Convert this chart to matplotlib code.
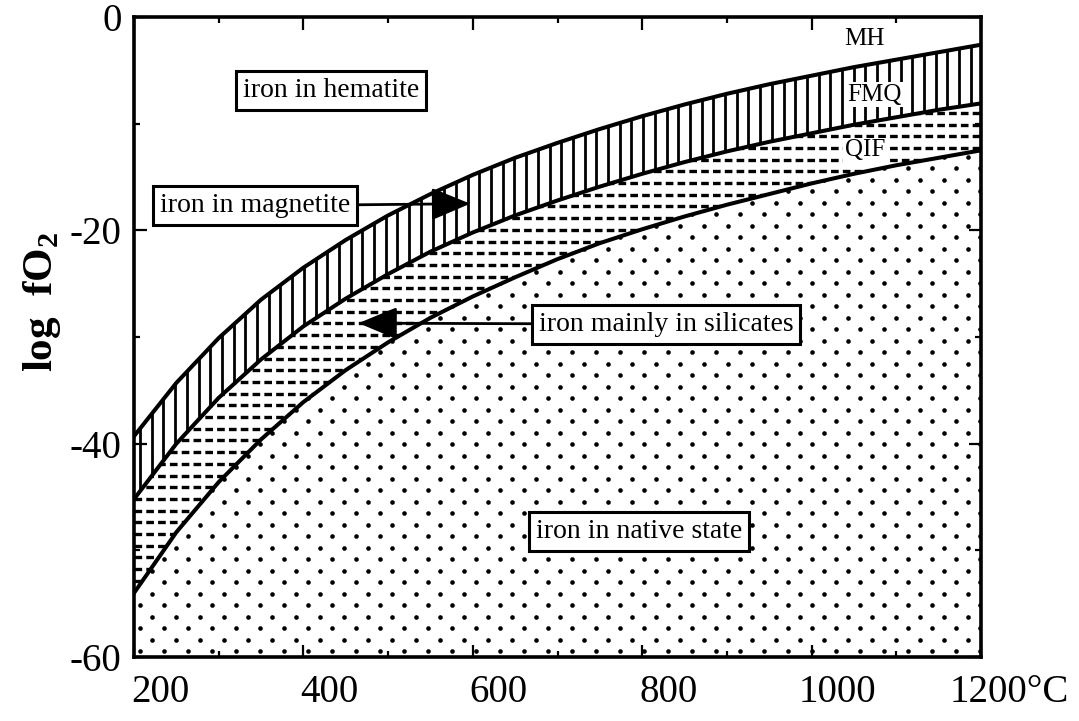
import matplotlib
matplotlib.use("Agg")
import matplotlib.pyplot as plt
import numpy as np
from matplotlib.patches import PathPatch
from matplotlib.collections import LineCollection
from matplotlib.transforms import ScaledTranslation
from matplotlib.ticker import MultipleLocator

plt.rcParams['font.family'] = ['Liberation Serif', 'DejaVu Serif']
plt.rcParams['mathtext.fontset'] = 'custom'
plt.rcParams['mathtext.rm'] = 'Liberation Serif:bold'
plt.rcParams['axes.unicode_minus'] = False
plt.rcParams['lines.scale_dashes'] = False

# buffer curves (log fO2 vs temperature in C)
temp = [200, 250, 300, 350, 400, 450, 500, 550, 600, 650, 700,
        750, 800, 850, 900, 950, 1000, 1050, 1100, 1150, 1200]
mh = [-39.3, -34.3, -30.1, -26.5, -23.5, -20.9, -18.6, -16.6, -14.8, -13.2, -11.8,
      -10.5, -9.3, -8.2, -7.2, -6.3, -5.5, -4.7, -4.0, -3.3, -2.6]
fmq = [-45.2, -40.0, -35.7, -32.1, -29.0, -26.4, -24.1, -22.0, -20.2, -18.6, -17.2,
       -15.9, -14.7, -13.6, -12.6, -11.7, -10.9, -10.1, -9.4, -8.7, -8.1]
qif = [-54.0, -48.3, -43.6, -39.6, -36.1, -33.1, -30.5, -28.2, -26.2, -24.4, -22.7,
       -21.2, -19.9, -18.7, -17.6, -16.6, -15.6, -14.7, -13.9, -13.2, -12.5]

xticks = [200, 400, 600, 800, 1000, 1200]
xticklabels = ['200', '400', '600', '800', '1000', '1200°C']
yticks = [0, -20, -40, -60]

W, H = 847, 640  # axes size in pixels
fig = plt.figure(figsize=(10.79, 7.21), dpi=100)
ax = fig.add_axes([134 / 1079, 64 / 721, W / 1079, H / 721])


def clip_patch(band):
    p = PathPatch(band.get_paths()[0], transform=ax.transData, fc='none', ec='none')
    ax.add_patch(p)
    return p


band_mag = ax.fill_between(temp, fmq, mh, color='none', lw=0)
band_sil = ax.fill_between(temp, qif, fmq, color='none', lw=0)
band_nat = ax.fill_between(temp, -60, qif, color='none', lw=0)

# vertical hatching: magnetite field
xs = np.arange(6, W, 11.7) / W
vl = LineCollection([[(x, 0), (x, 1)] for x in xs], colors='k', lw=2.0,
                    transform=ax.transAxes, zorder=2)
ax.add_collection(vl, autolim=False)
vl.set_clip_path(clip_patch(band_mag))

# dashed rows: silicate field
ys = np.arange(6, H, 11.7) / H
hl = LineCollection([[(0, y), (1, y)] for y in ys], colors='k', lw=2.4,
                    linestyles=[(0, (5.5, 3.0))], transform=ax.transAxes, zorder=2)
ax.add_collection(hl, autolim=False)
hl.set_clip_path(clip_patch(band_sil))

# dot stipple: native iron field
gx, gy = np.meshgrid(np.arange(6, W, 12), np.arange(6, H, 11.5))
keep = ((np.round((gx - 6) / 12) + np.round((gy - 6) / 11.5)) % 2 == 0)
dots = ax.scatter(gx[keep] / W, gy[keep] / H, s=11, c='k', lw=0,
                  transform=ax.transAxes, zorder=2)
dots.set_clip_path(clip_patch(band_nat))

for curve in (mh, fmq, qif):
    ax.plot(temp, curve, color='k', lw=2.9, zorder=3)

box = dict(boxstyle='square,pad=0.25', fc='white', ec='k', lw=2.2)
arrow = dict(arrowstyle='-|>,head_length=1.2,head_width=0.5', mutation_scale=20,
             lw=2, color='k', shrinkA=0, shrinkB=0)

ax.text(433, -6.9, 'iron in hematite', fontsize=20, ha='center', va='center',
        bbox=box, zorder=5)
ax.annotate('iron in magnetite', xy=(597, -17.5), xytext=(343, -17.7),
            fontsize=20, ha='center', va='center', bbox=box,
            arrowprops=arrow, zorder=5)
ax.annotate('iron mainly in silicates', xy=(465, -28.7), xytext=(828, -28.8),
            fontsize=20, ha='center', va='center', bbox=box,
            arrowprops=arrow, zorder=5)
ax.text(796, -48.2, 'iron in native state', fontsize=20, ha='center', va='center',
        bbox=box, zorder=5)

ax.text(1062, -2.1, 'MH', fontsize=18, ha='center', va='center', zorder=5)
ax.text(1074, -7.3, 'FMQ', fontsize=18, ha='center', va='center', zorder=5,
        bbox=dict(fc='white', ec='none', pad=1))
ax.text(1063, -12.5, 'QIF', fontsize=18, ha='center', va='center', zorder=5,
        bbox=dict(fc='white', ec='none', pad=1))

ax.set_xlim(200, 1200)
ax.set_ylim(-60, 0)
ax.set_xticks(xticks)
ax.set_xticklabels(xticklabels)
ax.set_yticks(yticks)
ax.xaxis.set_minor_locator(MultipleLocator(100))
ax.yaxis.set_minor_locator(MultipleLocator(10))
ax.tick_params(which='both', direction='in', top=True, right=True, width=1.6,
               labelsize=28)
ax.tick_params(which='major', length=9)
ax.tick_params(which='minor', length=4)
ax.tick_params(axis='y', pad=9)
ax.tick_params(axis='x', pad=12)
for s in ax.spines.values():
    s.set_linewidth(2.6)

for lab in ax.get_xticklabels()[:-1]:
    lab.set_transform(lab.get_transform() + ScaledTranslation(0.26, 0, fig.dpi_scale_trans))
last = ax.get_xticklabels()[-1]
last.set_ha('left')
last.set_transform(last.get_transform() + ScaledTranslation(-0.31, 0, fig.dpi_scale_trans))

ax.set_ylabel(r'log  fO$_2$', fontsize=31, fontweight='bold')
ax.yaxis.set_label_coords(-0.084, 0.555)

fig.savefig('out.png', dpi=100)
